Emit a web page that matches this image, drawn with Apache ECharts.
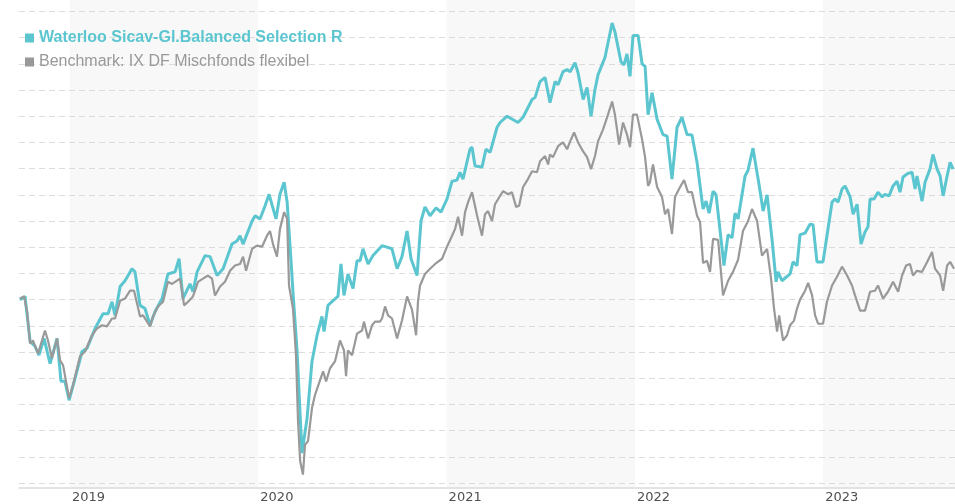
<!DOCTYPE html>
<html>
<head>
<meta charset="utf-8">
<script src="https://cdn.jsdelivr.net/npm/echarts@6/dist/echarts.min.js"></script>
<style>
  html, body { margin: 0; padding: 0; background: #fff; }
  #chart { width: 955px; height: 504px; }
</style>
</head>
<body>
<div id="chart"></div>
<script>
// Year labels and the alternating shaded years
const yearTicks = [2019, 2020, 2021, 2022, 2023];
const shadedYears = [2019, 2021, 2023];
// Horizontal reference levels (index points)
const gridLevels = [65, 70, 75, 80, 85, 90, 95, 100, 105, 110, 115, 120, 125, 130, 135, 140, 145, 150, 155];

const FUND_NAME = 'Waterloo Sicav-Gl.Balanced Selection R';
const BENCH_NAME = 'Benchmark: IX DF Mischfonds flexibel';

// [decimal year, indexed value] — fund
const fund = [
  [2018.734,100.0],[2018.761,100.6],[2018.788,92.0],[2018.814,91.1],[2018.835,89.4],[2018.862,92.6],[2018.894,87.8],[2018.931,92.6],[2018.952,84.4],[2018.973,84.4],[2018.995,80.8],
  [2019.027,85.0],[2019.064,90.1],[2019.090,90.7],[2019.133,94.5],[2019.175,97.3],[2019.202,97.3],[2019.223,99.6],[2019.239,97.0],[2019.266,102.5],[2019.292,103.6],[2019.329,105.9],[2019.345,105.3],[2019.372,98.9],[2019.398,98.3],[2019.425,95.1],[2019.451,97.7],[2019.489,100.2],[2019.520,104.9],[2019.558,105.3],[2019.579,107.8],[2019.600,100.2],[2019.637,103.0],[2019.653,101.5],[2019.675,105.3],[2019.717,108.4],[2019.744,108.2],[2019.781,104.6],[2019.813,105.9],[2019.860,110.6],[2019.887,111.2],[2019.903,112.2],[2019.919,110.6],[2019.967,115.0],[2019.983,116.0],
  [2020.009,115.4],[2020.036,117.9],[2020.057,120.1],[2020.094,115.4],[2020.115,120.1],[2020.137,122.4],[2020.153,118.6],[2020.174,107.2],[2020.184,101.5],[2020.206,90.1],[2020.222,78.0],[2020.232,70.7],[2020.259,77.4],[2020.285,88.2],[2020.312,93.2],[2020.338,96.8],[2020.349,93.9],[2020.370,98.9],[2020.397,99.8],[2020.423,100.6],[2020.439,106.8],[2020.455,100.8],[2020.476,104.9],[2020.503,102.1],[2020.524,107.4],[2020.540,107.4],[2020.556,109.7],[2020.583,106.8],[2020.609,108.4],[2020.657,110.3],[2020.710,109.7],[2020.737,105.9],[2020.763,108.2],[2020.790,113.1],[2020.811,107.8],[2020.843,104.6],[2020.864,115.0],[2020.885,117.7],[2020.912,116.0],[2020.944,117.5],[2020.970,116.7],
  [2021.002,119.2],[2021.029,122.6],[2021.055,122.8],[2021.071,124.3],[2021.087,123.0],[2021.124,128.7],[2021.135,129.1],[2021.151,125.5],[2021.188,125.3],[2021.209,128.7],[2021.231,128.1],[2021.268,132.9],[2021.284,133.8],[2021.321,135.0],[2021.379,133.8],[2021.406,134.8],[2021.454,138.2],[2021.470,138.6],[2021.496,141.6],[2021.523,142.4],[2021.549,137.6],[2021.576,141.6],[2021.592,141.0],[2021.618,143.5],[2021.640,143.9],[2021.656,143.5],[2021.682,145.2],[2021.698,143.3],[2021.725,138.2],[2021.746,140.5],[2021.767,135.0],[2021.788,140.1],[2021.804,142.9],[2021.841,146.2],[2021.879,152.8],[2021.894,151.1],[2021.926,145.4],[2021.942,144.8],[2021.958,146.9],[2021.974,142.6],[2021.990,150.4],
  [2022.017,150.4],[2022.038,145.0],[2022.054,144.5],[2022.070,135.3],[2022.091,139.5],[2022.118,134.4],[2022.149,131.5],[2022.171,131.2],[2022.197,123.0],[2022.224,132.9],[2022.250,134.8],[2022.277,131.5],[2022.303,131.4],[2022.330,126.2],[2022.362,117.3],[2022.378,118.8],[2022.394,116.5],[2022.415,120.7],[2022.431,120.0],[2022.473,106.5],[2022.495,112.4],[2022.516,111.8],[2022.532,116.5],[2022.548,115.4],[2022.585,123.6],[2022.601,124.7],[2022.627,128.9],[2022.659,122.0],[2022.681,116.9],[2022.702,120.0],[2022.728,111.6],[2022.750,103.4],[2022.760,105.3],[2022.781,103.6],[2022.824,104.9],[2022.840,107.2],[2022.861,106.5],[2022.877,112.4],[2022.904,112.7],[2022.930,114.4],[2022.946,114.3],[2022.967,107.2],[2022.999,107.2],
  [2023.020,112.2],[2023.047,118.6],[2023.063,119.2],[2023.079,118.6],[2023.100,121.1],[2023.116,121.7],[2023.143,119.6],[2023.159,116.3],[2023.180,118.2],[2023.201,110.6],[2023.222,112.9],[2023.238,113.9],[2023.249,119.2],[2023.270,119.2],[2023.291,120.5],[2023.313,119.6],[2023.328,120.1],[2023.350,119.8],[2023.371,121.7],[2023.392,122.6],[2023.408,120.5],[2023.424,123.4],[2023.451,124.1],[2023.472,124.3],[2023.488,121.1],[2023.498,123.6],[2023.525,118.8],[2023.541,122.4],[2023.567,124.9],[2023.583,127.7],[2023.605,124.9],[2023.621,123.6],[2023.637,119.8],[2023.658,123.6],[2023.674,126.2],[2023.690,124.9]
];

// [decimal year, indexed value] — benchmark
const benchmark = [
  [2018.734,100.2],[2018.756,100.6],[2018.772,97.7],[2018.788,91.6],[2018.803,92.2],[2018.830,89.7],[2018.867,94.1],[2018.883,92.2],[2018.904,88.8],[2018.931,92.6],[2018.947,88.4],[2018.963,87.5],[2018.995,81.2],
  [2019.016,83.7],[2019.053,89.2],[2019.080,90.1],[2019.117,93.2],[2019.143,94.5],[2019.170,95.1],[2019.196,94.9],[2019.223,96.4],[2019.239,96.4],[2019.266,99.8],[2019.292,100.2],[2019.319,101.7],[2019.340,101.7],[2019.372,96.8],[2019.388,97.0],[2019.425,94.9],[2019.441,96.8],[2019.467,98.7],[2019.494,99.6],[2019.520,103.4],[2019.542,103.0],[2019.558,103.4],[2019.584,104.0],[2019.606,98.9],[2019.627,99.6],[2019.653,100.6],[2019.680,103.4],[2019.706,104.0],[2019.733,104.6],[2019.754,104.0],[2019.770,100.8],[2019.797,102.5],[2019.823,103.4],[2019.850,105.5],[2019.876,106.5],[2019.903,106.8],[2019.919,108.2],[2019.935,105.5],[2019.967,109.7],[2019.993,110.3],
  [2020.020,110.1],[2020.046,112.2],[2020.062,113.1],[2020.078,110.6],[2020.099,108.2],[2020.115,113.5],[2020.137,116.7],[2020.153,115.4],[2020.163,102.7],[2020.184,98.3],[2020.200,89.4],[2020.211,76.8],[2020.222,69.2],[2020.237,66.6],[2020.248,72.3],[2020.264,73.0],[2020.285,79.3],[2020.301,81.8],[2020.317,83.5],[2020.344,86.3],[2020.360,84.4],[2020.381,86.9],[2020.407,88.2],[2020.434,92.2],[2020.455,90.3],[2020.466,85.4],[2020.476,90.3],[2020.498,89.4],[2020.524,93.5],[2020.551,94.1],[2020.561,95.8],[2020.583,92.6],[2020.604,95.1],[2020.620,95.8],[2020.646,95.8],[2020.657,96.4],[2020.673,98.7],[2020.689,97.0],[2020.710,96.4],[2020.737,92.6],[2020.763,96.0],[2020.790,100.6],[2020.816,98.1],[2020.838,93.2],[2020.848,99.6],[2020.859,102.7],[2020.885,104.9],[2020.912,105.9],[2020.939,106.8],[2020.976,107.8],
  [2021.002,110.1],[2021.029,112.2],[2021.045,113.5],[2021.061,115.8],[2021.082,112.2],[2021.098,116.7],[2021.114,118.6],[2021.135,120.5],[2021.162,116.0],[2021.188,112.2],[2021.204,116.3],[2021.220,116.9],[2021.241,115.0],[2021.257,118.2],[2021.284,119.8],[2021.300,120.7],[2021.326,120.1],[2021.347,120.5],[2021.369,117.7],[2021.385,117.9],[2021.406,121.5],[2021.432,123.0],[2021.454,124.5],[2021.480,124.3],[2021.496,126.4],[2021.523,127.4],[2021.539,125.8],[2021.549,127.7],[2021.565,127.2],[2021.592,129.3],[2021.618,130.0],[2021.640,128.7],[2021.656,130.2],[2021.677,131.9],[2021.698,130.0],[2021.725,128.3],[2021.746,127.2],[2021.767,124.9],[2021.788,127.4],[2021.804,130.2],[2021.831,132.5],[2021.857,135.3],[2021.879,137.8],[2021.894,135.3],[2021.916,129.6],[2021.937,133.8],[2021.958,131.5],[2021.974,129.1],[2021.990,135.3],
  [2022.011,135.3],[2022.038,130.6],[2022.054,127.2],[2022.070,121.7],[2022.080,122.4],[2022.096,125.8],[2022.118,121.5],[2022.144,119.6],[2022.160,116.3],[2022.176,117.3],[2022.197,112.5],[2022.213,119.6],[2022.240,121.5],[2022.261,122.8],[2022.282,120.5],[2022.303,120.5],[2022.330,116.0],[2022.346,114.8],[2022.362,107.0],[2022.383,107.4],[2022.399,105.3],[2022.415,111.6],[2022.442,111.4],[2022.468,100.8],[2022.495,103.6],[2022.521,105.3],[2022.548,107.6],[2022.574,113.1],[2022.601,115.0],[2022.622,117.3],[2022.649,115.0],[2022.675,108.4],[2022.702,109.7],[2022.723,104.0],[2022.739,98.3],[2022.755,93.9],[2022.766,97.0],[2022.787,92.2],[2022.808,93.2],[2022.824,95.1],[2022.845,96.0],[2022.861,98.3],[2022.877,100.0],[2022.904,101.7],[2022.920,103.2],[2022.941,100.8],[2022.957,97.0],[2022.973,95.4],[2022.999,95.4],
  [2023.020,99.6],[2023.047,102.7],[2023.074,104.4],[2023.100,106.3],[2023.127,104.6],[2023.153,102.7],[2023.169,100.8],[2023.196,97.9],[2023.222,97.9],[2023.249,101.5],[2023.275,101.7],[2023.291,102.7],[2023.318,100.2],[2023.344,101.5],[2023.371,103.4],[2023.398,101.5],[2023.419,104.6],[2023.440,106.5],[2023.461,106.8],[2023.477,104.6],[2023.498,105.5],[2023.525,105.3],[2023.552,107.2],[2023.578,109.1],[2023.594,105.9],[2023.621,104.6],[2023.637,101.7],[2023.658,106.5],[2023.674,107.2],[2023.695,105.9]
];

// Visible axis ranges
const X_MIN = 2018.729, X_MAX = 2023.70;
const Y_MIN = 64.05, Y_MAX = 157.18;

const FUND_COLOR = '#5bc6cf';
const BENCH_COLOR = '#999999';

const chart = echarts.init(document.getElementById('chart'), null, { renderer: 'canvas' });

chart.setOption({
  animation: false,
  backgroundColor: '#ffffff',
  grid: { left: 19, right: 0, top: 0, bottom: 13.5 },
  xAxis: {
    type: 'value',
    min: X_MIN,
    max: X_MAX,
    splitLine: { show: false },
    axisTick: { show: false },
    axisLine: { lineStyle: { color: '#dadada', width: 1.5 } },
    axisLabel: {
      customValues: yearTicks,
      formatter: v => String(Math.round(v)),
      align: 'left',
      margin: 3,
      padding: [0, 0, 0, 2],
      fontFamily: 'DejaVu Sans',
      fontSize: 13,
      color: '#505050'
    }
  },
  yAxis: {
    type: 'value',
    min: Y_MIN,
    max: Y_MAX,
    show: false,
    splitLine: { show: false }
  },
  legend: {
    orient: 'vertical',
    left: 25,
    top: 30,
    padding: 0,
    itemWidth: 9,
    itemHeight: 9,
    itemGap: 8,
    icon: 'rect',
    selectedMode: false,
    textStyle: { fontFamily: 'Liberation Sans', fontSize: 16, lineHeight: 16 },
    data: [
      { name: FUND_NAME, textStyle: { color: FUND_COLOR, fontWeight: 'bold' } },
      { name: BENCH_NAME, textStyle: { color: BENCH_COLOR } }
    ]
  },
  series: [
    {
      // background: shaded years and dashed reference levels
      name: 'background',
      type: 'line',
      data: [],
      silent: true,
      z: 0,
      markArea: {
        silent: true,
        z: 0,
        itemStyle: { color: '#f8f8f8' },
        data: shadedYears.map(y => [{ xAxis: y }, { xAxis: Math.min(y + 1, X_MAX) }])
      },
      markLine: {
        silent: true,
        z: 1,
        symbol: ['none', 'none'],
        label: { show: false },
        emphasis: { disabled: true },
        lineStyle: { color: '#dcdcdc', type: [6, 4], width: 1 },
        data: gridLevels.map(v => ({ yAxis: v }))
      }
    },
    {
      name: FUND_NAME,
      type: 'line',
      data: fund,
      showSymbol: false,
      z: 3,
      lineStyle: { color: FUND_COLOR, width: 3 },
      itemStyle: { color: FUND_COLOR }
    },
    {
      name: BENCH_NAME,
      type: 'line',
      data: benchmark,
      showSymbol: false,
      z: 4,
      lineStyle: { color: BENCH_COLOR, width: 2.2 },
      itemStyle: { color: BENCH_COLOR }
    }
  ]
});
</script>
</body>
</html>
